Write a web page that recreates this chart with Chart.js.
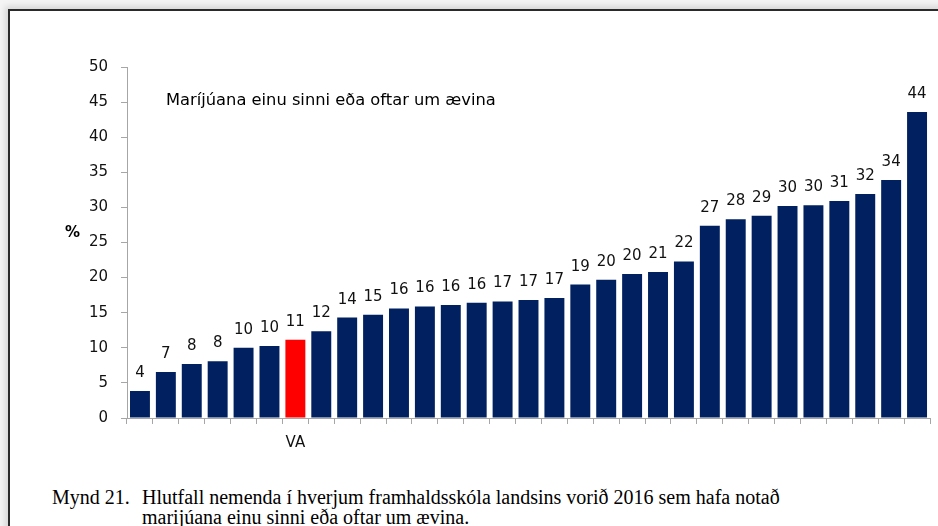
<!DOCTYPE html>
<html>
<head>
<meta charset="utf-8">
<script src="https://cdn.jsdelivr.net/npm/chart.js@4.4.0/dist/chart.umd.min.js"></script>
<style>
  html, body { margin: 0; padding: 0; }
  body {
    width: 938px; height: 526px; overflow: hidden; position: relative;
    background: #f4f4f4;
  }
  #page {
    position: absolute; left: 8px; top: 9px; width: 940px; height: 530px;
    background: #fff;
    border-top: 2px solid #2a2a2a; border-left: 2px solid #2a2a2a;
    box-shadow: -3px -3px 6px rgba(0,0,0,0.12);
  }
  #wrap { position: absolute; left: 0; top: 0; width: 938px; height: 460px; }
  #heading {
    position: absolute; left: 166px; top: 90px; line-height: 19px;
    font: 16.3px "DejaVu Sans", sans-serif; color: #000; white-space: nowrap;
  }
  #unit {
    position: absolute; left: 65px; top: 223px; line-height: 18px;
    font: bold 15px "DejaVu Sans", sans-serif; color: #000;
  }
  .caption {
    position: absolute; font: 20px "Liberation Serif", "Times New Roman", serif;
    line-height: 20px; color: #000; white-space: nowrap;
  }
</style>
</head>
<body>
<div id="page"></div>
<div id="wrap"><canvas id="chart" width="938" height="460"></canvas></div>
<div id="heading">Maríjúana einu sinni eða oftar um ævina</div>
<div id="unit">%</div>
<div class="caption" style="left:52px; top:487px;">Mynd 21.</div>
<div class="caption" style="left:142px; top:487px;">Hlutfall nemenda í hverjum framhaldsskóla landsins vorið 2016 sem hafa notað</div>
<div class="caption" style="left:142px; top:507px;">marijúana einu sinni eða oftar um ævina.</div>
<script>
// Skólar (aðeins VA merktur á ás)
const schools = ['', '', '', '', '', '', 'VA', '', '', '', '', '', '', '', '', '',
                 '', '', '', '', '', '', '', '', '', '', '', '', '', '', ''];
// Hlutfall (%) lesið af myndinni
const percent = [3.85, 6.55, 7.7, 8.1, 10.0, 10.25, 11.15, 12.35, 14.3, 14.7, 15.6,
                 15.9, 16.1, 16.4, 16.6, 16.8, 17.1, 19.0, 19.7, 20.5, 20.8, 22.3,
                 27.4, 28.3, 28.8, 30.2, 30.3, 30.9, 31.9, 33.9, 43.6];
// Gildismerki eins og þau standa á myndinni
const valueLabels = ['4', '7', '8', '8', '10', '10', '11', '12', '14', '15', '16',
                     '16', '16', '16', '17', '17', '17', '19', '20', '20', '21', '22',
                     '27', '28', '29', '30', '30', '31', '32', '34', '44'];
const yTicks = [0, 5, 10, 15, 20, 25, 30, 35, 40, 45, 50];

const NAVY = '#002060';
const RED = '#ff0000';
const barColors = schools.map(s => s === 'VA' ? RED : NAVY);

// Teikna gildi fyrir ofan súlurnar
const valueLabelPlugin = {
  id: 'valueLabels',
  afterDatasetsDraw(chart) {
    const ctx = chart.ctx;
    const meta = chart.getDatasetMeta(0);
    ctx.save();
    ctx.font = '15px "DejaVu Sans", sans-serif';
    ctx.fillStyle = '#111';
    ctx.textAlign = 'center';
    ctx.textBaseline = 'alphabetic';
    meta.data.forEach((bar, i) => {
      ctx.fillText(valueLabels[i], bar.x, bar.y - 14);
    });
    ctx.restore();
  }
};

new Chart(document.getElementById('chart'), {
  type: 'bar',
  data: {
    labels: schools,
    datasets: [{
      data: percent,
      backgroundColor: barColors,
      borderWidth: 0,
      barPercentage: 0.77,
      categoryPercentage: 1.0
    }]
  },
  options: {
    responsive: false,
    animation: false,
    events: [],
    layout: { padding: { left: 0, top: 67, right: 8, bottom: 0 } },
    plugins: { legend: { display: false }, tooltip: { enabled: false } },
    scales: {
      x: {
        grid: { drawOnChartArea: false, color: '#a6a6a6', tickLength: 6, offset: true },
        border: { color: '#a6a6a6', width: 1 },
        ticks: { autoSkip: false, maxRotation: 0, color: '#111', padding: 10,
                 font: { family: '"DejaVu Sans", sans-serif', size: 15 } },
        afterFit: s => { s.height = 42; }
      },
      y: {
        min: 0, max: 50,
        afterBuildTicks: s => { s.ticks = yTicks.map(v => ({ value: v })); },
        grid: { drawOnChartArea: false, color: '#a6a6a6', tickLength: 6 },
        border: { color: '#a6a6a6', width: 1 },
        ticks: { color: '#111', padding: 13,
                 font: { family: '"DejaVu Sans", sans-serif', size: 15 } },
        afterFit: s => { s.width = 127; }
      }
    }
  },
  plugins: [valueLabelPlugin]
});
</script>
</body>
</html>
